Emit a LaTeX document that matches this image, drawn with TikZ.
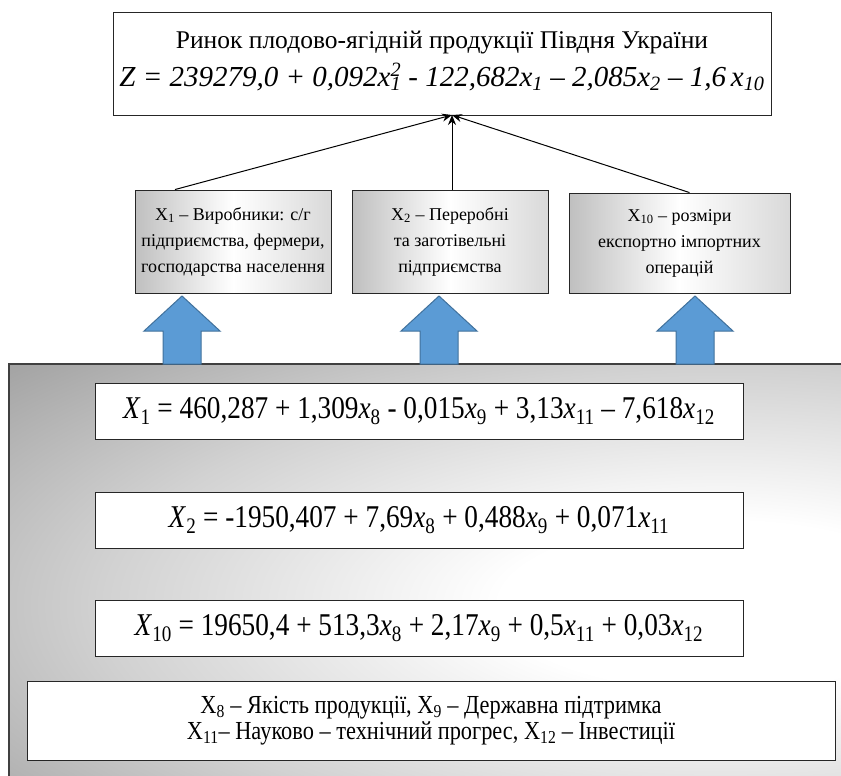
\documentclass[tikz,border=0pt]{standalone}
\usepackage{fontspec}
\setmainfont{Liberation Serif}
\newfontfamily\narrowfont[FakeStretch=0.86]{Liberation Serif}
\usetikzlibrary{arrows.meta,positioning,calc,shadows}
\definecolor{steel}{HTML}{5B9BD5}
\definecolor{steeledge}{HTML}{41719C}
\definecolor{panelgrey}{HTML}{8E8E8E}
\newcommand{\lo}[1]{\textsubscript{#1}}
\newcommand{\xsq}{x\textsuperscript{2}\llap{\textsubscript{1}}}
\pgfdeclareradialshading{panelshade}{\pgfpoint{0bp}{0bp}}{color(0bp)=(white); color(5bp)=(white); color(14bp)=(panelgrey!40); color(25bp)=(panelgrey); color(50bp)=(panelgrey)}

\begin{document}
\begin{tikzpicture}[x=1pt,y=-1pt,
  box/.style={draw=black!85,line width=0.9pt,align=center,inner sep=0pt},
  shadowed/.style={drop shadow={shadow xshift=1.2pt,shadow yshift=-1.2pt,fill=black,opacity=.7}},
  factor/.style={box,shadowed,left color=gray!50,right color=gray!30,middle color=white,font=\fontsize{18}{26}\selectfont},
  eqbox/.style={box,shadowed,fill=white,minimum width=648,minimum height=56,font=\narrowfont\fontsize{31.7}{34}\selectfont},
  link/.style={-{Stealth[length=10pt,width=8pt]},line width=1pt},
  blockarrow/.style={fill=steel,draw=steeledge,line width=1pt}]
\useasboundingbox (0,0) rectangle (841,776);
\begin{scope}
\clip (9,364) rectangle (850,785);
\fill[panelgrey] (9,364) rectangle (850,785);
\shade[shading=panelshade] (720,605) ellipse (1100 and 420);
\end{scope}
\draw[black!75,line width=1.2pt] (850,364) -- (9,364) -- (9,785);
\node[box,minimum width=658,minimum height=103] (market) at (442,63.5) {};
\node[anchor=base,font=\fontsize{25.5}{30}\selectfont] (title) at (442,48.5) {Ринок плодово-ягідній продукції Півдня України};
\node[anchor=base,font=\fontsize{29}{34}\selectfont\itshape] (model) at (442,86) {Z = 239279,0 + 0,092\xsq{} - 122,682x\lo{1} – 2,085x\lo{2} – 1,6\,x\lo{10}};
\node[factor,minimum width=196,minimum height=103] (prod) at (233,241.5) {X\lo{1} – Виробники: с/г\\ підприємства, фермери,\\ господарства населення};
\node[factor,minimum width=196,minimum height=103] (proc) at (450,241.5) {X\lo{2} – Переробні\\ та заготівельні\\ підприємства};
\node[factor,minimum width=221,minimum height=100] (trade) at (679.5,243) {X\lo{10} – розміри\\ експортно імпортних\\ операцій};
\coordinate (hub) at (452,115);
\draw[link] ($(prod.north)+(-58,0)$) -- (hub);
\draw[link] (proc.north -| hub) -- (hub);
\draw[link] ($(trade.north)+(10,0)$) -- (hub);
\foreach \c in {182,439,695}{\filldraw[blockarrow] (\c,296) -- (\c+38,331) -- (\c+19,331) -- (\c+19,364) -- (\c-19,364) -- (\c-19,331) -- (\c-38,331) -- cycle;}
\node[eqbox] (eqa) at (419,411) {\textit{X}\lo{1} = 460,287 + 1,309\textit{x}\lo{8} - 0,015\textit{x}\lo{9} + 3,13\textit{x}\lo{11} – 7,618\textit{x}\lo{12}};
\node[eqbox] (eqb) at (419,520) {\textit{X}\lo{2} = -1950,407 + 7,69\textit{x}\lo{8} + 0,488\textit{x}\lo{9} + 0,071\textit{x}\lo{11}};
\node[eqbox] (eqc) at (419,628) {\textit{X}\lo{10} = 19650,4 + 513,3\textit{x}\lo{8} + 2,17\textit{x}\lo{9} + 0,5\textit{x}\lo{11} + 0,03\textit{x}\lo{12}};
\node[box,shadowed,fill=white,minimum width=808,minimum height=79,font=\narrowfont\fontsize{26}{26}\selectfont] (legend) at (431,720.5) {X\lo{8} – Якість продукції, X\lo{9} – Державна підтримка\\ X\lo{11}– Науково – технічний прогрес, X\lo{12} – Інвестиції};
\end{tikzpicture}
\end{document}
